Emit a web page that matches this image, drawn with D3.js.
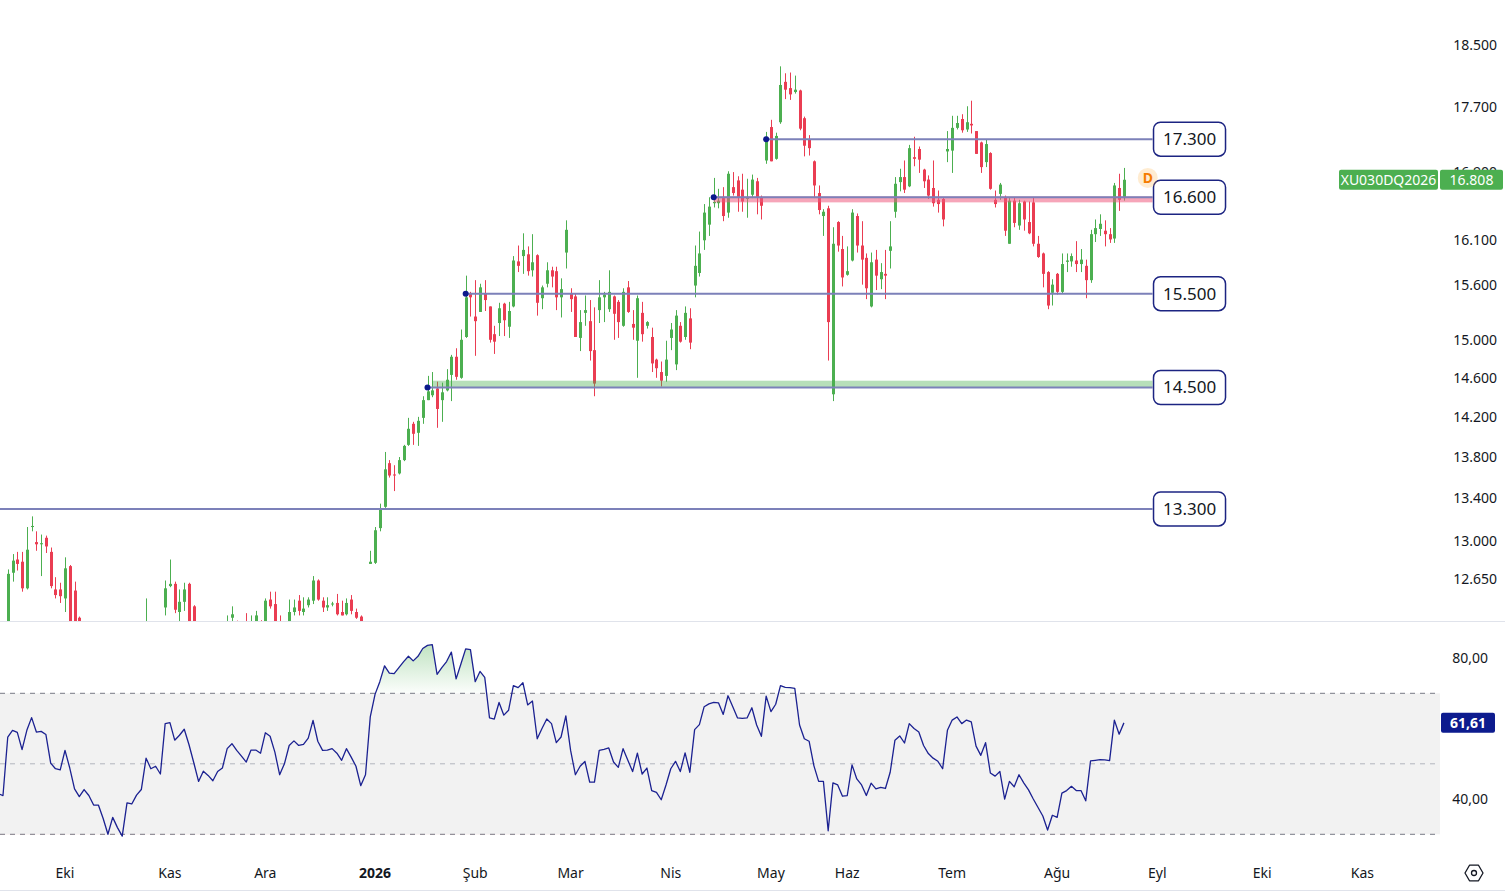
<!DOCTYPE html>
<html>
<head>
<meta charset="utf-8">
<script src="https://cdn.jsdelivr.net/npm/d3@7"></script>
<style>
  body { margin: 0; background: #fff; }
  svg { display: block; font-family: "Noto Sans", "Open Sans", sans-serif; }
</style>
</head>
<body>
<svg id="chart" width="1505" height="892"></svg>
<script>

//////////// *** DATA *** ////////////

// daily candles of XU030DQ2026, bar index 0 = first session of October 2025
var firstIndex = -14;

var opens = [
  12300,12230,12250,12710,12830,12810,12570,13130,12990,12970,13030,12900,12560,12560,
  12480,12770,12550,12310,12000,12080,12020,11920,11910,11780,11600,11730,11640,11560,11820,11810,
  11900,11960,12260,12150,12180,12400,12590,12610,12360,12450,12610,12410,12100,11980,12050,12020,
  11980,12050,12080,12310,12280,12230,12270,12140,12250,12280,12200,12470,12430,12260,12080,12180,
  12360,12460,12360,12420,12460,12640,12460,12400,12430,12440,12360,12340,12470,12360,12320,12180,
  12790,12800,13120,13320,13740,13630,13640,13770,13920,14130,14040,14190,14370,14420,14490,14370,
  14470,14630,14820,14600,15030,15500,15250,15300,15500,15360,15060,15180,15390,15140,15360,15860,
  15920,15940,15760,15930,15450,15610,15760,15750,15460,15960,15500,15470,15020,15290,15200,14890,
  15320,15460,15330,15470,15410,15150,15570,15170,14990,15290,15150,15030,14790,14660,14620,15020,
  14740,15150,15030,15230,15590,15730,16100,16280,16530,16530,16590,16420,16720,16800,16690,16580,
  16630,16790,16600,17040,17450,17060,17510,18020,17940,17890,17910,17560,17290,17030,16650,16380,
  16470,14430,16310,16000,15710,15870,16380,16040,15900,15360,15880,15660,15720,15980,16430,16780,
  16840,16730,17080,17180,16930,16810,16710,16570,16580,17150,17160,17440,17550,17420,17490,17400,
  17260,17020,17130,16570,16640,16600,16060,16560,16270,16550,16310,16540,16060,15950,15740,15510,
  15720,15520,15855,15860,15870,15830,15810,15650,16170,16230,16210,16170,16120,16710,16590
];
var highs = [
  12340,12280,12740,12880,12900,12900,13130,13230,13090,13060,13050,12940,12670,12620,
  12850,12780,12630,12320,12120,12130,12050,11990,11930,11800,11760,11750,11660,11850,11870,11920,
  11990,12480,12280,12230,12200,12640,12830,12630,12560,12620,12620,12420,12130,12080,12070,12040,
  12070,12110,12330,12410,12285,12260,12350,12330,12370,12288,12480,12540,12540,12330,12200,12470,
  12470,12510,12490,12490,12680,12650,12490,12490,12450,12520,12460,12480,12510,12390,12330,12280,
  12910,13130,13350,13850,13770,13720,13800,13920,14190,14150,14200,14410,14620,14660,14560,14550,
  14690,14840,14910,15110,15700,15520,15650,15610,15650,15360,15150,15400,15400,15410,15920,16040,
  16180,16030,16170,15940,15590,15850,15800,15800,15670,16330,15560,15500,15320,15480,15430,15350,
  15650,15520,15760,15480,15430,15560,15640,15320,15480,15410,15200,15130,14800,14770,14990,15180,
  15320,15190,15360,15340,16040,16200,16520,16600,16830,16700,16720,16910,16900,16850,16880,16820,
  16870,16830,16620,17390,17540,17380,18220,18130,18140,18100,17920,17580,17350,17040,16740,16460,
  16500,16250,16320,16150,16030,16460,16410,16320,15950,15960,15990,15840,15990,16320,16840,16940,
  17040,17230,17330,17210,16940,16860,17040,16680,16600,17400,17590,17590,17610,17710,17780,17400,
  17270,17300,17140,16680,16770,16620,16600,16600,16570,16560,16550,16600,16150,15960,15750,15660,
  15730,15950,15950,15950,16090,16000,15880,16220,16340,16400,16330,16240,16770,16880,16950
];
var lows = [
  12180,12150,12200,12630,12730,12540,12560,13090,12910,12680,12890,12570,12480,12440,
  12360,12200,12050,11950,11950,11980,11880,11860,11750,11560,11580,11600,11520,11540,11760,11790,
  11870,11940,12100,12110,12060,12330,12580,12350,12280,12370,12240,12080,11940,11960,11990,11950,
  11970,12020,12060,12250,12200,12160,12120,12120,12200,12200,12180,12390,12230,12050,12060,12160,
  12330,12330,12330,12400,12430,12460,12360,12370,12410,12330,12330,12330,12340,12300,12150,12150,
  12790,12790,13090,13310,13600,13470,13630,13760,13910,13920,13910,14130,14370,14400,14090,14150,
  14460,14360,14580,14590,15020,15250,14830,15300,15310,14970,14850,15040,15040,15020,15350,15740,
  15720,15700,15690,15260,15330,15570,15570,15320,15240,15780,15300,15030,14880,15150,14780,14410,
  15180,15190,15300,15000,15020,15140,15290,15000,14600,14980,15120,14660,14600,14510,14560,14890,
  14680,14970,15000,14900,15460,15690,15990,16150,16480,16470,16320,16360,16620,16430,16430,16360,
  16590,16400,16340,17000,17030,17050,17490,17800,17790,17870,17410,17090,17100,16590,16400,16150,
  14780,14360,15970,15580,15700,15860,15960,15600,15440,15350,15540,15550,15440,15780,16360,16670,
  16650,16720,16970,16890,16710,16580,16490,16420,16260,17020,16890,17420,17380,17390,17370,17120,
  16890,16960,16690,16480,16570,16150,16060,16250,16220,16210,16170,16030,15900,15570,15330,15370,
  15490,15500,15740,15800,15740,15740,15450,15620,16080,16150,16030,16070,16070,16440,16560
];
var closes = [
  12220,12200,12700,12820,12790,12570,12920,13140,12970,12980,12950,12590,12510,12500,
  12750,12260,12100,12000,12080,12020,11920,11915,11780,11600,11730,11640,11560,11820,11810,11900,
  11960,12260,12150,12180,12100,12570,12610,12380,12450,12560,12270,12100,11980,12050,12020,11980,
  12050,12080,12250,12340,12230,12190,12140,12280,12330,12270,12460,12410,12260,12080,12180,12360,
  12400,12370,12390,12470,12640,12470,12400,12420,12435,12340,12330,12440,12370,12310,12180,12260,
  12810,13100,13300,13680,13620,13620,13770,13910,14080,14030,14160,14370,14460,14470,14280,14450,
  14580,14820,14610,15000,15460,15460,15200,15570,15430,15000,14980,15340,15210,15310,15870,15810,
  15990,15750,15850,15400,15570,15760,15690,15460,15550,16220,15440,15030,15190,15320,14880,14540,
  15460,15490,15520,15280,15190,15520,15300,15130,15450,15060,15190,14750,14700,14570,14790,15110,
  15260,14980,15290,14970,15810,15950,16420,16490,16545,16560,16380,16880,16650,16600,16550,16600,
  16810,16600,16500,17330,17030,17340,17980,17920,17860,17920,17430,17220,17190,16740,16450,16430,
  15190,16060,16040,15680,15750,16420,16040,15880,15560,15850,15700,15740,15700,16030,16760,16840,
  16690,17190,17060,17050,16790,16620,16530,16520,16340,17180,17440,17500,17410,17510,17470,17120,
  16960,17240,16700,16520,16750,16210,16560,16300,16530,16340,16180,16060,15910,15720,15370,15600,
  15520,15830,15870,15920,15830,15880,15650,16170,16240,16290,16170,16110,16740,16570,16808
];

var rsiValues = [
  41.5,41.0,57.6,59.5,58.9,54.0,59.5,63.1,59.0,59.2,58.3,50.2,48.6,48.3,
  53.8,48.8,42.9,40.7,42.7,41.0,38.3,38.3,34.5,30.0,34.8,31.9,29.5,38.9,38.6,41.1,
  42.7,51.6,48.6,49.3,47.1,61.4,61.7,56.7,58.1,59.8,55.4,50.3,45.0,47.9,46.7,45.2,
  47.8,48.8,54.3,55.7,53.8,52.2,50.5,53.9,53.9,53.0,58.8,57.8,53.3,46.9,50.0,55.2,
  56.5,55.2,55.5,57.3,62.3,56.4,53.8,53.9,54.3,53.0,51.0,54.3,51.9,49.3,43.8,46.9,
  63.3,69.7,73.3,77.8,75.7,75.6,77.3,79.0,80.5,79.2,80.5,82.7,83.6,83.8,75.4,77.3,
  79.0,81.7,74.1,78.3,82.6,82.4,73.3,76.2,74.5,63.0,62.7,67.4,63.8,65.2,72.2,71.6,
  73.0,66.7,67.8,57.1,60.0,62.7,61.4,56.0,57.6,63.6,53.8,46.9,49.3,50.7,44.8,44.8,
  53.8,54.1,54.5,50.5,49.0,54.3,51.0,47.8,53.0,47.1,48.8,42.4,41.9,39.8,44.0,48.6,
  50.7,47.8,53.1,47.6,59.7,61.1,66.2,67.0,67.4,67.3,64.0,69.3,66.2,63.0,62.9,63.0,
  65.9,61.0,57.8,69.2,64.8,66.9,72.2,71.7,71.6,71.4,61.0,57.1,56.4,49.5,45.0,45.0,
  31.0,44.6,44.0,40.8,41.0,49.7,45.7,44.0,41.0,44.5,42.9,43.3,43.0,47.6,56.7,57.9,
  55.9,61.4,60.0,59.0,55.2,52.9,51.6,50.7,48.6,59.5,62.4,63.3,61.4,62.4,61.9,55.0,
  52.4,56.0,47.4,46.5,47.8,40.0,45.0,43.5,46.9,44.6,42.6,40.0,37.6,35.2,31.2,35.4,
  34.8,41.7,42.4,43.6,42.4,42.4,39.5,50.8,51.0,51.2,51.1,50.9,62.4,58.4,61.61
];

var monthLabels = ["Eki","Kas","Ara","2026","Şub","Mar","Nis","May","Haz","Tem","Ağu","Eyl","Eki","Kas"];
var monthIndex  = [0, 22, 42, 65, 86, 106, 127, 148, 164, 186, 208, 229, 251, 272];

var priceTicks = [18500,17700,16900,16100,15600,15000,14600,14200,13800,13400,13000,12650];
var rsiTicks = [80, 40];

// horizontal levels drawn on the chart (null start = from the left edge)
var levelPrices = [17300, 16600, 15500, 14500, 13300];
var levelStart  = [147, 136, 84, 76, null];
var levelEnd = 228;

var pinkZone  = [16540, 16610];
var pinkStart = 136;
var greenZone  = [14500, 14570];
var greenStart = 77;

var symbolName = "XU030DQ2026";
var dividendMark = { i: 227, price: 16830 };

//////////// *** SCALES *** ////////////

var locale = d3.formatLocale({ decimal: ",", thousands: ".", grouping: [3], currency: ["", ""] });
var fmtPrice = locale.format(",.0f");
var fmtRsi = locale.format(".2f");

var plotRight = 1440;
var mainBottom = 621;

var x = d3.scaleLinear().domain([0, 272]).range([65, 1362.4]);
var y = d3.scaleLog().domain([12290, 19100]).range([620, 0]);
var yR = d3.scaleLinear().domain([30, 70]).range([834.3, 693.3]);

var upColor = "#4caf50", downColor = "#ea3d52";
var levelColor = "#7c81b9", navy = "#1c2482";

var svg = d3.select("#chart");
var defs = svg.append("defs");

defs.append("clipPath").attr("id", "mainClip")
  .append("rect").attr("x", 0).attr("y", 0).attr("width", plotRight).attr("height", mainBottom);

var candles = opens.map(function(o, k) {
  return { i: k + firstIndex, o: o, h: highs[k], l: lows[k], c: closes[k] };
});

//////////// *** MAIN PANE *** ////////////

var main = svg.append("g").attr("clip-path", "url(#mainClip)");

var cg = main.append("g");
cg.selectAll(".wick")
  .data(candles)
  .enter().append("line")
  .attr("x1", function(d) { return Math.round(x(d.i)) + 0.5; })
  .attr("x2", function(d) { return Math.round(x(d.i)) + 0.5; })
  .attr("y1", function(d) { return y(d.h); })
  .attr("y2", function(d) { return y(d.l); })
  .attr("stroke", function(d) { return d.c >= d.o ? upColor : downColor; })
  .attr("stroke-width", 1);

cg.selectAll(".body")
  .data(candles)
  .enter().append("rect")
  .attr("x", function(d) { return Math.round(x(d.i)) - 1; })
  .attr("width", 3)
  .attr("y", function(d) { return Math.min(y(d.o), y(d.c)); })
  .attr("height", function(d) { return Math.max(1, Math.abs(y(d.o) - y(d.c))); })
  .attr("fill", function(d) { return d.c >= d.o ? upColor : downColor; });

// zones
main.append("rect")
  .attr("x", x(pinkStart)).attr("width", x(levelEnd) - x(pinkStart))
  .attr("y", y(pinkZone[1])).attr("height", y(pinkZone[0]) - y(pinkZone[1]))
  .attr("fill", "#ef5b7f").attr("fill-opacity", 0.55);

main.append("rect")
  .attr("x", x(greenStart)).attr("width", x(levelEnd) - x(greenStart))
  .attr("y", y(greenZone[1])).attr("height", y(greenZone[0]) - y(greenZone[1]))
  .attr("fill", "#4caf50").attr("fill-opacity", 0.4);

// levels
var levels = levelPrices.map(function(p, k) { return { p: p, s: levelStart[k] }; });

main.selectAll(".level")
  .data(levels)
  .enter().append("line")
  .attr("x1", function(d) { return d.s === null ? 0 : x(d.s); })
  .attr("x2", x(levelEnd))
  .attr("y1", function(d) { return y(d.p); })
  .attr("y2", function(d) { return y(d.p); })
  .attr("stroke", levelColor)
  .attr("stroke-width", 2);

main.selectAll(".anchor")
  .data(levels.filter(function(d) { return d.s !== null; }))
  .enter().append("circle")
  .attr("cx", function(d) { return x(d.s); })
  .attr("cy", function(d) { return y(d.p); })
  .attr("r", 3)
  .attr("fill", "#0c1a8c");

var boxes = svg.selectAll(".lvlbox")
  .data(levels)
  .enter().append("g")
  .attr("transform", function(d) { return "translate(" + (x(levelEnd) + 1) + "," + y(d.p) + ")"; });

boxes.append("rect")
  .attr("x", 0).attr("y", -17).attr("width", 72).attr("height", 34).attr("rx", 7)
  .attr("fill", "#fff").attr("stroke", navy).attr("stroke-width", 1.5);

boxes.append("text")
  .attr("x", 36).attr("y", 0).attr("dy", "0.35em")
  .attr("text-anchor", "middle")
  .attr("font-size", 17).attr("fill", "#131722")
  .text(function(d) { return fmtPrice(d.p); });

// dividend marker
svg.append("circle")
  .attr("cx", x(dividendMark.i)).attr("cy", y(dividendMark.price)).attr("r", 10)
  .attr("fill", "#ff9800").attr("fill-opacity", 0.18);
svg.append("text")
  .attr("x", x(dividendMark.i)).attr("y", y(dividendMark.price)).attr("dy", "0.35em")
  .attr("text-anchor", "middle").attr("font-size", 14).attr("font-weight", "bold")
  .attr("fill", "#f57c00").text("D");

// price axis
svg.selectAll(".ptick")
  .data(priceTicks)
  .enter().append("text")
  .attr("x", 1497).attr("y", function(d) { return y(d); }).attr("dy", "0.35em")
  .attr("text-anchor", "end").attr("font-size", 14).attr("fill", "#131722")
  .text(function(d) { return fmtPrice(d); });

var lastClose = closes[closes.length - 1];
var tag = svg.append("g").attr("transform", "translate(0," + y(lastClose) + ")");
tag.append("rect").attr("x", 1339).attr("y", -10).attr("width", 99).attr("height", 20).attr("rx", 2).attr("fill", upColor);
tag.append("text").attr("x", 1388.5).attr("dy", "0.35em").attr("text-anchor", "middle")
  .attr("font-size", 14).attr("fill", "#fff").text(symbolName);
tag.append("rect").attr("x", 1440).attr("y", -10).attr("width", 63).attr("height", 20).attr("rx", 2).attr("fill", upColor);
tag.append("text").attr("x", 1471.5).attr("dy", "0.35em").attr("text-anchor", "middle")
  .attr("font-size", 14).attr("fill", "#fff").text(fmtPrice(lastClose));

// pane separators
svg.append("line").attr("x1", 0).attr("x2", 1505).attr("y1", mainBottom + 0.5).attr("y2", mainBottom + 0.5)
  .attr("stroke", "#e0e3eb");
svg.append("line").attr("x1", 0).attr("x2", 1505).attr("y1", 890.5).attr("y2", 890.5)
  .attr("stroke", "#e0e3eb");

//////////// *** RSI PANE *** ////////////

var rsiData = rsiValues.map(function(v, k) { return { i: k + firstIndex, v: v }; });

svg.append("rect")
  .attr("x", 0).attr("width", plotRight)
  .attr("y", yR(70)).attr("height", yR(30) - yR(70))
  .attr("fill", "#f2f2f2");

svg.append("line").attr("x1", 0).attr("x2", plotRight).attr("y1", yR(70)).attr("y2", yR(70))
  .attr("stroke", "#787b86").attr("stroke-dasharray", "5,5");
svg.append("line").attr("x1", 0).attr("x2", plotRight).attr("y1", yR(50)).attr("y2", yR(50))
  .attr("stroke", "#b2b5be").attr("stroke-dasharray", "5,5");
svg.append("line").attr("x1", 0).attr("x2", plotRight).attr("y1", yR(30)).attr("y2", yR(30))
  .attr("stroke", "#787b86").attr("stroke-dasharray", "5,5");

var grad = defs.append("linearGradient").attr("id", "obGrad")
  .attr("gradientUnits", "userSpaceOnUse")
  .attr("x1", 0).attr("x2", 0).attr("y1", yR(88)).attr("y2", yR(70));
grad.append("stop").attr("offset", 0).attr("stop-color", "#4caf50").attr("stop-opacity", 0.45);
grad.append("stop").attr("offset", 1).attr("stop-color", "#4caf50").attr("stop-opacity", 0.02);

defs.append("clipPath").attr("id", "obClip")
  .append("rect").attr("x", 0).attr("y", mainBottom).attr("width", plotRight).attr("height", yR(70) - mainBottom);
defs.append("clipPath").attr("id", "osClip")
  .append("rect").attr("x", 0).attr("y", yR(30)).attr("width", plotRight).attr("height", 40);

svg.append("path")
  .datum(rsiData)
  .attr("clip-path", "url(#obClip)")
  .attr("fill", "url(#obGrad)")
  .attr("d", d3.area()
    .x(function(d) { return x(d.i); })
    .y0(yR(70))
    .y1(function(d) { return yR(d.v); }));

svg.append("path")
  .datum(rsiData)
  .attr("clip-path", "url(#osClip)")
  .attr("fill", "#f23645").attr("fill-opacity", 0.15)
  .attr("d", d3.area()
    .x(function(d) { return x(d.i); })
    .y0(yR(30))
    .y1(function(d) { return yR(d.v); }));

svg.append("path")
  .datum(rsiData)
  .attr("fill", "none")
  .attr("stroke", "#1b2191")
  .attr("stroke-width", 1.3)
  .attr("stroke-linejoin", "round")
  .attr("d", d3.line()
    .x(function(d) { return x(d.i); })
    .y(function(d) { return yR(d.v); }));

svg.selectAll(".rtick")
  .data(rsiTicks)
  .enter().append("text")
  .attr("x", 1488).attr("y", function(d) { return yR(d); }).attr("dy", "0.35em")
  .attr("text-anchor", "end").attr("font-size", 14).attr("fill", "#131722")
  .text(function(d) { return fmtRsi(d); });

var lastRsi = rsiValues[rsiValues.length - 1];
var rtag = svg.append("g").attr("transform", "translate(0," + yR(lastRsi) + ")");
rtag.append("rect").attr("x", 1441).attr("y", -10).attr("width", 54).attr("height", 20).attr("rx", 2).attr("fill", "#0d1b8e");
rtag.append("text").attr("x", 1468).attr("dy", "0.35em").attr("text-anchor", "middle")
  .attr("font-size", 14).attr("font-weight", "bold").attr("fill", "#fff").text(fmtRsi(lastRsi));

//////////// *** TIME AXIS *** ////////////

svg.selectAll(".month")
  .data(monthLabels)
  .enter().append("text")
  .attr("x", function(d, k) { return x(monthIndex[k]); })
  .attr("y", 873).attr("dy", "0.35em")
  .attr("text-anchor", "middle").attr("font-size", 14).attr("fill", "#131722")
  .attr("font-weight", function(d) { return d === "2026" ? "bold" : "normal"; })
  .text(function(d) { return d; });

// settings icon
var hex = d3.range(6).map(function(k) {
  var a = k * Math.PI / 3;
  return [1474 + 9 * Math.cos(a), 873 + 9 * Math.sin(a)];
});
svg.append("path").attr("d", "M" + hex.join("L") + "Z")
  .attr("fill", "none").attr("stroke", "#131722").attr("stroke-width", 1.3).attr("stroke-linejoin", "round");
svg.append("circle").attr("cx", 1474).attr("cy", 873).attr("r", 2.5)
  .attr("fill", "none").attr("stroke", "#131722").attr("stroke-width", 1.3);

</script>
</body>
</html>
